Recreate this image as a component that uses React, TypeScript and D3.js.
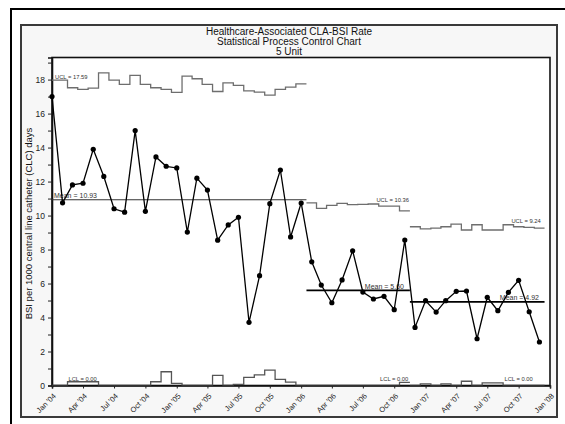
import { useEffect, useRef } from 'react';
import * as d3 from 'd3';

// BSI per 1000 central line catheter days, one value per month (Jan '04 .. Dec '07)
const rates2004 = [17.0, 10.75, 11.8, 11.9, 13.9, 12.3, 10.4, 10.2, 15.0, 10.25, 13.45, 12.9];
const rates2005 = [12.8, 9.03, 12.2, 11.5, 8.55, 9.45, 9.9, 3.72, 6.46, 10.7, 12.68, 8.74];
const rates2006 = [10.74, 7.28, 5.91, 4.87, 6.21, 7.93, 5.5, 5.09, 5.25, 4.46, 8.56, 3.42];
const rates2007 = [4.99, 4.32, 4.99, 5.54, 5.56, 2.75, 5.19, 4.4, 5.48, 6.19, 4.34, 2.56];

// control limits, per month, split by phase
const uclPhase1 = [17.97, 17.97, 17.52, 17.42, 17.5, 18.4, 17.97, 17.72, 18.25, 17.72, 17.52, 17.42, 17.25,
  18.2, 18.05, 17.72, 17.3, 17.81, 17.66, 17.34, 17.26, 17.09, 17.42, 17.56, 17.75];
const uclPhase2 = [10.75, 10.42, 10.6, 10.72, 10.64, 10.66, 10.68, 10.56, 10.56, 10.28];
const uclPhase3 = [9.34, 9.22, 9.26, 9.34, 9.5, 9.15, 9.46, 9.15, 9.15, 9.46, 9.34, 9.3, 9.26];

const lclPhase1 = [0, 0, 0.22, 0.22, 0.22, 0, 0, 0, 0, 0, 0.22, 0.81, 0.13,
  0, 0, 0, 0.6, 0, 0.06, 0.48, 0.62, 0.91, 0.36, 0.2, 0];
const lclPhase2 = [0, 0, 0, 0, 0, 0, 0, 0, 0, 0.18];
const lclPhase3 = [0, 0.1, 0, 0.1, 0, 0.25, 0, 0.15, 0.15, 0, 0, 0, 0];

const phaseMeans = [10.93, 5.6, 4.92];
const meanLabels = ['Mean = 10.93', 'Mean = 5.60', 'Mean = 4.92'];
const uclLabels = ['UCL = 17.59', 'UCL = 10.36', 'UCL = 9.24'];
const lclLabels = ['LCL = 0.00', 'LCL = 0.00', 'LCL = 0.00'];

const xTickLabels = ["Jan '04", "Apr '04", "Jul '04", "Oct '04", "Jan '05", "Apr '05", "Jul '05", "Oct '05",
  "Jan '06", "Apr '06", "Jul '06", "Oct '06", "Jan '07", "Apr '07", "Jul '07", "Oct '07", "Jan '08"];
const yTickValues = d3.range(0, 20);

const titleLines = ['Healthcare-Associated CLA-BSI Rate', 'Statistical Process Control Chart', '5 Unit'];
const yTitle = 'BSI per 1000 central line catheter (CLC) days';

const FONT = '"Liberation Sans", Arial, sans-serif';

function App() {
  const svgRef = useRef<SVGSVGElement>(null);

  useEffect(() => {
    const width = 565,
      height = 424;
    const plot = { left: 52, right: 550, top: 57.5, bottom: 385.5 };

    const start = new Date(2004, 0, 1);
    const months = d3.timeMonth.range(start, new Date(2008, 0, 1));
    const rates = [...rates2004, ...rates2005, ...rates2006, ...rates2007];
    const data = months.map((d, i) => ({ date: d, value: rates[i] }));

    const phases = [
      { ucl: uclPhase1, lcl: lclPhase1, first: 0 },
      { ucl: uclPhase2, lcl: lclPhase2, first: uclPhase1.length },
      { ucl: uclPhase3, lcl: lclPhase3, first: uclPhase1.length + uclPhase2.length },
    ];

    const x = d3.scaleTime().domain([start, new Date(2008, 0, 1)]).range([plot.left, plot.right]);
    const y = d3.scaleLinear().domain([0, 19.3]).range([plot.bottom, plot.top]);

    // half-month edges around each point
    const leftEdge = (i: number) =>
      i === 0 ? x(months[0]) - (x(months[1]) - x(months[0])) / 2 : (x(months[i - 1]) + x(months[i])) / 2;
    const rightEdge = (i: number) =>
      i === months.length - 1
        ? x(months[i]) + (x(months[i]) - x(months[i - 1])) / 2
        : (x(months[i]) + x(months[i + 1])) / 2;

    const svg = d3.select(svgRef.current);
    svg.selectAll('*').remove();

    // frames
    svg.append('rect').attr('x', 11).attr('y', 9).attr('width', 600).attr('height', 440)
      .attr('fill', '#fff').attr('stroke', '#000').attr('stroke-width', 2);
    svg.append('rect').attr('x', 21).attr('y', 25).attr('width', 536).attr('height', 392)
      .attr('fill', '#f7f7f7').attr('stroke', '#3a3a3a').attr('stroke-width', 2);
    svg.append('rect').attr('x', plot.left).attr('y', plot.top)
      .attr('width', plot.right - plot.left).attr('height', plot.bottom - plot.top)
      .attr('fill', '#fff').attr('stroke', '#111').attr('stroke-width', 1.6);

    svg.append('clipPath').attr('id', 'plotclip').append('rect')
      .attr('x', plot.left).attr('y', plot.top)
      .attr('width', plot.right - plot.left).attr('height', plot.bottom - plot.top);

    // title
    svg.append('g').selectAll('text').data(titleLines).join('text')
      .attr('x', 289).attr('y', (d, i) => 35 + i * 10)
      .attr('text-anchor', 'middle').attr('font-family', FONT).attr('font-size', 10)
      .attr('fill', '#111').text((d) => d);

    // y axis
    const yAxis = svg.append('g').attr('transform', `translate(${plot.left},0)`)
      .call(d3.axisLeft(y).tickValues(yTickValues).tickSize(4).tickPadding(3)
        .tickFormat((d) => (+d % 2 === 0 ? String(d) : '')));
    yAxis.select('.domain').attr('stroke', '#111').attr('stroke-width', 1.6);
    yAxis.selectAll('.tick line').attr('stroke', '#222');
    yAxis.selectAll('.tick text').attr('font-family', FONT).attr('font-size', 8.5).attr('fill', '#222');

    svg.append('text')
      .attr('transform', `translate(32,${(plot.top + plot.bottom) / 2 + 2}) rotate(-90)`)
      .attr('text-anchor', 'middle').attr('font-family', FONT).attr('font-size', 9.5)
      .attr('fill', '#111').text(yTitle);

    // x axis
    const tickDates = xTickLabels.map((_, i) => d3.timeMonth.offset(start, i * 3));
    const xAxis = svg.append('g').attr('transform', `translate(0,${plot.bottom})`)
      .call(d3.axisBottom(x).tickValues(tickDates).tickSize(3).tickFormat((d, i) => xTickLabels[i]));
    xAxis.select('.domain').attr('stroke', '#111').attr('stroke-width', 1.6);
    xAxis.selectAll('.tick line').attr('stroke', '#222');
    xAxis.selectAll('.tick text')
      .attr('font-family', FONT).attr('font-size', 7.5).attr('fill', '#222')
      .attr('text-anchor', 'end').attr('dy', null).attr('y', null)
      .attr('transform', 'translate(4,11) rotate(-45)');

    const g = svg.append('g').attr('clip-path', 'url(#plotclip)');
    const stepLine = d3.line<[number, number]>();

    phases.forEach((p, k) => {
      const lastIdx = p.first + p.ucl.length - 1;
      const xl = leftEdge(p.first),
        xr = rightEdge(lastIdx);

      const steps = (vals: number[]) =>
        vals.flatMap((v, j): [number, number][] => [
          [leftEdge(p.first + j), y(v)],
          [rightEdge(p.first + j), y(v)],
        ]);

      g.append('path').attr('d', stepLine(steps(p.ucl))).attr('fill', 'none')
        .attr('stroke', '#6e6e6e').attr('stroke-width', 1.3);
      g.append('path').attr('d', stepLine(steps(p.lcl))).attr('fill', 'none')
        .attr('stroke', '#555').attr('stroke-width', 1.3);

      g.append('line').attr('x1', xl).attr('x2', xr)
        .attr('y1', y(phaseMeans[k])).attr('y2', y(phaseMeans[k]))
        .attr('stroke', k === 0 ? '#333' : '#000').attr('stroke-width', k === 0 ? 1.1 : 1.8);
    });

    // limit / mean labels
    const labelText = (tx: number, ty: number, text: string, size: number) =>
      svg.append('text').attr('x', tx).attr('y', ty).attr('font-family', FONT)
        .attr('font-size', size).attr('fill', '#333').text(text);

    const uclAt = [0, 31, 44];
    const lclAt = [2, 32, 44];
    const meanAt = [0, 30, 43];
    phases.forEach((p, k) => {
      const uIdx = uclAt[k] - p.first;
      labelText(x(months[uclAt[k]]) + 3, y(p.ucl[uIdx]) - 1.5, uclLabels[k], 5.8);
      labelText(x(months[lclAt[k]]) - 4, y(0) - 4.5, lclLabels[k], 5.8);
      labelText(x(months[meanAt[k]]) + 2, y(phaseMeans[k]) - 1.5, meanLabels[k], 7);
    });

    // data series
    const valueLine = d3.line<{ date: Date; value: number }>()
      .x((d) => x(d.date))
      .y((d) => y(d.value));

    svg.append('path').datum(data).attr('fill', 'none').attr('stroke', '#000')
      .attr('stroke-width', 1.3).attr('d', valueLine);

    svg.append('g').selectAll('circle').data(data).join('circle')
      .attr('cx', (d) => x(d.date)).attr('cy', (d) => y(d.value))
      .attr('r', 2.6).attr('fill', '#000');
  }, []);

  return (
    <svg
      ref={svgRef}
      width={565}
      height={424}
      style={{ position: 'absolute', left: 0, top: 0, background: '#fff' }}
    />
  );
}

export default App;
